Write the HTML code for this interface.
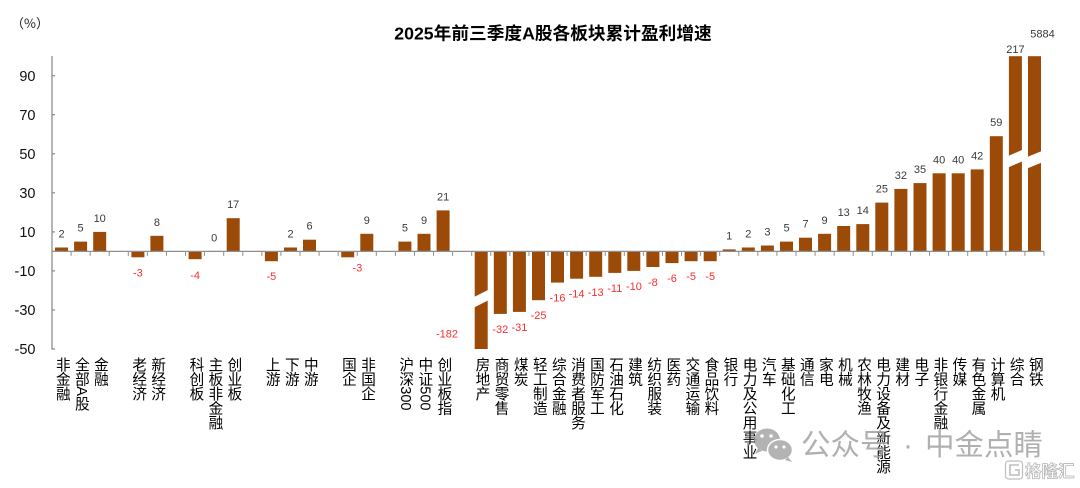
<!DOCTYPE html>
<html><head><meta charset="utf-8">
<style>
html,body{margin:0;padding:0;background:#fff;}
#c{position:relative;width:1080px;height:488px;overflow:hidden;background:#fff;}
svg{position:absolute;left:0;top:0;}
.lb{position:absolute;top:357px;width:14.6px;height:130px;font-family:"Liberation Sans","Noto Sans CJK SC",sans-serif;font-size:14.6px;line-height:14.6px;writing-mode:vertical-rl;text-orientation:mixed;color:#000;white-space:nowrap;}
</style></head>
<body><div id="c">
<svg width="1080" height="488" viewBox="0 0 1080 488" xmlns="http://www.w3.org/2000/svg">
<text x="553" y="39.5" text-anchor="middle" font-family="Liberation Sans, Noto Sans CJK SC, sans-serif" font-weight="bold" font-size="17.7" fill="#000">2025年前三季度A股各板块累计盈利增速</text>
<text x="11" y="28" font-family="Noto Sans CJK SC, sans-serif" font-size="13" fill="#222">（%）</text>
<!-- y axis -->
<g stroke="#8f8f8f" stroke-width="1.3">
<line x1="52" y1="56" x2="52" y2="349.5"/>
<line x1="52" y1="75.7" x2="55" y2="75.7"/>
<line x1="52" y1="114.7" x2="55" y2="114.7"/>
<line x1="52" y1="153.8" x2="55" y2="153.8"/>
<line x1="52" y1="192.8" x2="55" y2="192.8"/>
<line x1="52" y1="231.9" x2="55" y2="231.9"/>
<line x1="52" y1="270.9" x2="55" y2="270.9"/>
<line x1="52" y1="310" x2="55" y2="310"/>
<line x1="52" y1="349" x2="55" y2="349"/>
</g>
<g font-family="Liberation Sans, sans-serif" font-size="14.5" fill="#111" text-anchor="end">
<text x="35.5" y="80.9">90</text>
<text x="35.5" y="119.9">70</text>
<text x="35.5" y="159">50</text>
<text x="35.5" y="198">30</text>
<text x="35.5" y="237.1">10</text>
<text x="35.5" y="276.1">-10</text>
<text x="35.5" y="315.2">-30</text>
<text x="35.5" y="354.2">-50</text>
</g>
<!-- bars -->
<g fill="#9b4a08">
<rect x="55" y="247.5" width="13" height="3.9"/>
<rect x="74.1" y="241.6" width="13" height="9.8"/>
<rect x="93.2" y="231.9" width="13" height="19.5"/>
<rect x="131.4" y="251.4" width="13" height="5.9"/>
<rect x="150.4" y="235.8" width="13" height="15.6"/>
<rect x="188.6" y="251.4" width="13" height="7.8"/>
<rect x="207.7" y="250.6" width="13" height="0.8" fill="#e8d6c8"/>
<rect x="226.7" y="218.2" width="13" height="33.2"/>
<rect x="264.9" y="251.4" width="13" height="9.8"/>
<rect x="284" y="247.5" width="13" height="3.9"/>
<rect x="303" y="239.7" width="13" height="11.7"/>
<rect x="341.2" y="251.4" width="13" height="5.9"/>
<rect x="360.3" y="233.8" width="13" height="17.6"/>
<rect x="398.4" y="241.6" width="13" height="9.8"/>
<rect x="417.5" y="233.8" width="13" height="17.6"/>
<rect x="436.6" y="210.4" width="13" height="41"/>
<rect x="474.7" y="251.4" width="13" height="97.6"/>
<rect x="493.8" y="251.4" width="13" height="62.5"/>
<rect x="512.9" y="251.4" width="13" height="60.5"/>
<rect x="532" y="251.4" width="13" height="48.8"/>
<rect x="551" y="251.4" width="13" height="31.2"/>
<rect x="570.1" y="251.4" width="13" height="27.3"/>
<rect x="589.2" y="251.4" width="13" height="25.4"/>
<rect x="608.3" y="251.4" width="13" height="21.5"/>
<rect x="627.3" y="251.4" width="13" height="19.5"/>
<rect x="646.4" y="251.4" width="13" height="15.6"/>
<rect x="665.5" y="251.4" width="13" height="11.7"/>
<rect x="684.6" y="251.4" width="13" height="9.8"/>
<rect x="703.7" y="251.4" width="13" height="9.8"/>
<rect x="722.7" y="249.4" width="13" height="2"/>
<rect x="741.8" y="247.5" width="13" height="3.9"/>
<rect x="760.9" y="245.5" width="13" height="5.9"/>
<rect x="780" y="241.6" width="13" height="9.8"/>
<rect x="799" y="237.7" width="13" height="13.7"/>
<rect x="818.1" y="233.8" width="13" height="17.6"/>
<rect x="837.2" y="226" width="13" height="25.4"/>
<rect x="856.3" y="224.1" width="13" height="27.3"/>
<rect x="875.3" y="202.6" width="13" height="48.8"/>
<rect x="894.4" y="188.9" width="13" height="62.5"/>
<rect x="913.5" y="183.1" width="13" height="68.3"/>
<rect x="932.6" y="173.3" width="13" height="78.1"/>
<rect x="951.7" y="173.3" width="13" height="78.1"/>
<rect x="970.7" y="169.4" width="13" height="82"/>
<rect x="989.8" y="136.2" width="13" height="115.2"/>
<rect x="1008.9" y="56.2" width="13" height="195.2"/>
<rect x="1028" y="56.2" width="13" height="195.2"/>
</g>
<!-- break marks -->
<g fill="#fff">
<polygon points="473,297.5 489,289.5 489,300 473,308"/>
<polygon points="1007,156.5 1023,149.5 1023,161 1007,168"/>
<polygon points="1026,157.5 1043,150.5 1043,162 1026,169"/>
</g>
<!-- x axis -->
<g stroke="#8f8f8f" stroke-width="1.3">
<line x1="52" y1="251.4" x2="1044" y2="251.4"/>
</g>
<g stroke="#8f8f8f" stroke-width="1">
<path d="M52,251.4v4.5M71.08,251.4v4.5M90.15,251.4v4.5M109.23,251.4v4.5M128.31,251.4v4.5M147.38,251.4v4.5M166.46,251.4v4.5M185.54,251.4v4.5M204.62,251.4v4.5M223.69,251.4v4.5M242.77,251.4v4.5M261.85,251.4v4.5M280.92,251.4v4.5M300,251.4v4.5M319.08,251.4v4.5M338.15,251.4v4.5M357.23,251.4v4.5M376.31,251.4v4.5M395.38,251.4v4.5M414.46,251.4v4.5M433.54,251.4v4.5M452.62,251.4v4.5M471.69,251.4v4.5M490.77,251.4v4.5M509.85,251.4v4.5M528.92,251.4v4.5M548,251.4v4.5M567.08,251.4v4.5M586.15,251.4v4.5M605.23,251.4v4.5M624.31,251.4v4.5M643.38,251.4v4.5M662.46,251.4v4.5M681.54,251.4v4.5M700.62,251.4v4.5M719.69,251.4v4.5M738.77,251.4v4.5M757.85,251.4v4.5M776.92,251.4v4.5M796,251.4v4.5M815.08,251.4v4.5M834.15,251.4v4.5M853.23,251.4v4.5M872.31,251.4v4.5M891.38,251.4v4.5M910.46,251.4v4.5M929.54,251.4v4.5M948.62,251.4v4.5M967.69,251.4v4.5M986.77,251.4v4.5M1005.85,251.4v4.5M1024.92,251.4v4.5M1044,251.4v4.5"/>
</g>
<!-- positive labels -->
<g font-family="Liberation Sans, sans-serif" font-size="11" fill="#3a3a3a" text-anchor="middle">
<text x="61.5" y="237.5">2</text>
<text x="80.6" y="231.6">5</text>
<text x="99.7" y="221.9">10</text>
<text x="156.9" y="225.8">8</text>
<text x="214.2" y="241.4">0</text>
<text x="233.2" y="208.2">17</text>
<text x="290.5" y="237.5">2</text>
<text x="309.5" y="229.7">6</text>
<text x="366.8" y="223.8">9</text>
<text x="404.9" y="231.6">5</text>
<text x="424" y="223.8">9</text>
<text x="443.1" y="200.4">21</text>
<text x="729.2" y="239.5">1</text>
<text x="748.3" y="237.5">2</text>
<text x="767.4" y="235.5">3</text>
<text x="786.5" y="231.6">5</text>
<text x="805.5" y="227.7">7</text>
<text x="824.6" y="223.8">9</text>
<text x="843.7" y="216">13</text>
<text x="862.8" y="214.1">14</text>
<text x="881.9" y="192.6">25</text>
<text x="900.9" y="178.9">32</text>
<text x="920" y="173.1">35</text>
<text x="939.1" y="163.3">40</text>
<text x="958.2" y="163.3">40</text>
<text x="977.2" y="159.4">42</text>
<text x="996.3" y="126.2">59</text>
<text x="1015.4" y="53">217</text>
<text x="1042.5" y="37.3">5884</text>
</g>
<!-- negative labels -->
<g font-family="Liberation Sans, sans-serif" font-size="11" fill="#ff2e2e" text-anchor="middle">
<text x="137.9" y="276.3">-3</text>
<text x="195.1" y="279">-4</text>
<text x="271.4" y="280.2">-5</text>
<text x="357.3" y="271.3">-3</text>
<text x="447" y="337.3">-182</text>
<text x="500.3" y="332.9">-32</text>
<text x="519.4" y="330.9">-31</text>
<text x="538.5" y="319.2">-25</text>
<text x="557.5" y="301.6">-16</text>
<text x="576.6" y="297.7">-14</text>
<text x="595.7" y="295.8">-13</text>
<text x="614.8" y="291.9">-11</text>
<text x="633.9" y="289.9">-10</text>
<text x="652.9" y="286">-8</text>
<text x="672" y="282.1">-6</text>
<text x="691.1" y="280.2">-5</text>
<text x="710.2" y="280.2">-5</text>
</g>
</svg>

<div class="lb" style="left:54.2px">非金融</div>
<div class="lb" style="left:73.3px">全部A股</div>
<div class="lb" style="left:92.4px">金融</div>
<div class="lb" style="left:130.6px">老经济</div>
<div class="lb" style="left:149.6px">新经济</div>
<div class="lb" style="left:187.8px">科创板</div>
<div class="lb" style="left:206.9px">主板非金融</div>
<div class="lb" style="left:225.9px">创业板</div>
<div class="lb" style="left:264.1px">上游</div>
<div class="lb" style="left:283.2px">下游</div>
<div class="lb" style="left:302.2px">中游</div>
<div class="lb" style="left:340.4px">国企</div>
<div class="lb" style="left:359.5px">非国企</div>
<div class="lb" style="left:397.6px">沪深300</div>
<div class="lb" style="left:416.7px">中证500</div>
<div class="lb" style="left:435.8px">创业板指</div>
<div class="lb" style="left:473.9px">房地产</div>
<div class="lb" style="left:493px">商贸零售</div>
<div class="lb" style="left:512.1px">煤炭</div>
<div class="lb" style="left:531.2px">轻工制造</div>
<div class="lb" style="left:550.2px">综合金融</div>
<div class="lb" style="left:569.3px">消费者服务</div>
<div class="lb" style="left:588.4px">国防军工</div>
<div class="lb" style="left:607.5px">石油石化</div>
<div class="lb" style="left:626.5px">建筑</div>
<div class="lb" style="left:645.6px">纺织服装</div>
<div class="lb" style="left:664.7px">医药</div>
<div class="lb" style="left:683.8px">交通运输</div>
<div class="lb" style="left:702.9px">食品饮料</div>
<div class="lb" style="left:721.9px">银行</div>
<div class="lb" style="left:741px">电力及公用事业</div>
<div class="lb" style="left:760.1px">汽车</div>
<div class="lb" style="left:779.2px">基础化工</div>
<div class="lb" style="left:798.2px">通信</div>
<div class="lb" style="left:817.3px">家电</div>
<div class="lb" style="left:836.4px">机械</div>
<div class="lb" style="left:855.5px">农林牧渔</div>
<div class="lb" style="left:874.5px">电力设备及新能源</div>
<div class="lb" style="left:893.6px">建材</div>
<div class="lb" style="left:912.7px">电子</div>
<div class="lb" style="left:931.8px">非银行金融</div>
<div class="lb" style="left:950.9px">传媒</div>
<div class="lb" style="left:969.9px">有色金属</div>
<div class="lb" style="left:989px">计算机</div>
<div class="lb" style="left:1008.1px">综合</div>
<div class="lb" style="left:1027.2px">钢铁</div>

<svg width="1080" height="488" viewBox="0 0 1080 488" xmlns="http://www.w3.org/2000/svg">
<g opacity="0.85">
<ellipse cx="767" cy="440" rx="13" ry="11.5" fill="#a6a6a6"/>
<path d="M758,448 l-3,6 l7,-3 z" fill="#a6a6a6"/>
<ellipse cx="780" cy="450" rx="12.5" ry="10.5" fill="#a6a6a6" stroke="#fff" stroke-width="1.5"/>
<path d="M788,457 l4,5 l-7,-2 z" fill="#a6a6a6"/>
<circle cx="762" cy="436" r="1.8" fill="#fff"/>
<circle cx="771" cy="436" r="1.8" fill="#fff"/>
<circle cx="776" cy="447" r="1.6" fill="#fff"/>
<circle cx="784" cy="447" r="1.6" fill="#fff"/>
<g font-family="Liberation Sans, Noto Sans CJK SC, sans-serif" font-size="29.5" fill="#a3a3a3">
<text x="801" y="455">公众号</text>
<text x="908" y="455" text-anchor="middle">·</text>
<text x="925" y="455">中金点睛</text>
</g>
</g>
<g opacity="0.9">
<rect x="1005.5" y="461" width="17" height="18" rx="3" fill="none" stroke="#b8b8b8" stroke-width="1.2"/>
<path d="M1019,465 h-9 v10 h9 v-5 h-4" fill="none" stroke="#b8b8b8" stroke-width="1.6"/>
<text x="1025" y="477" font-family="Liberation Sans, Noto Sans CJK SC, sans-serif" font-size="16.5" font-weight="bold" fill="#fff" stroke="#b0b0b0" stroke-width="0.8">格隆汇</text>
</g>
</svg>
</div></body></html>
